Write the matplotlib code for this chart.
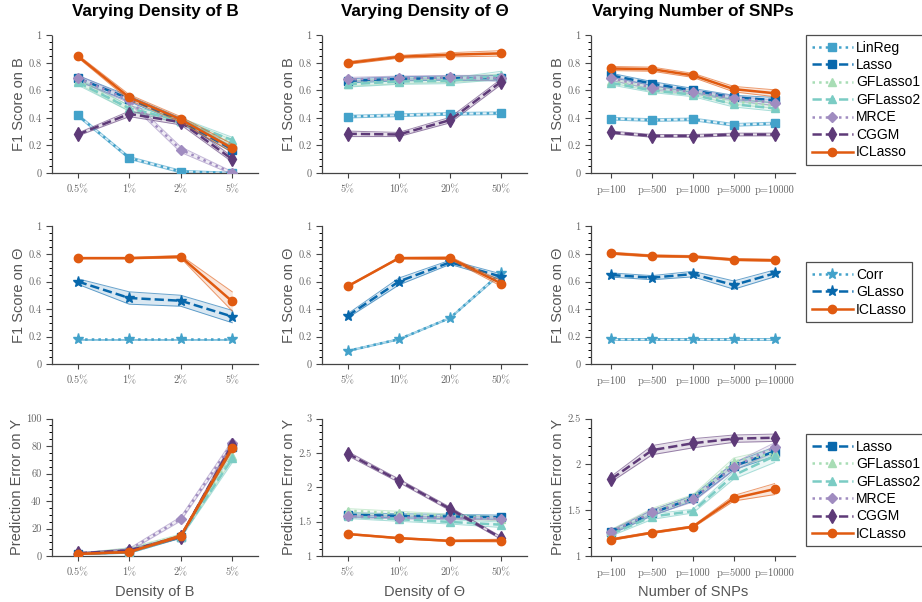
import matplotlib
matplotlib.use("Agg")
import matplotlib.pyplot as plt
from matplotlib.ticker import AutoMinorLocator, FuncFormatter, MultipleLocator
from matplotlib.colors import to_rgba

plt.rcParams["font.family"] = ["Liberation Sans", "DejaVu Sans"]

# x-axis categories
DENS_B = ["0.5%", "1%", "2%", "5%"]
DENS_TH = ["5%", "10%", "20%", "50%"]
SNPS = ["p=100", "p=500", "p=1000", "p=5000", "p=10000"]

# row 1: F1 score on B  (mean, band half-width)
f1b_densb = {
    "LinReg":   [0.42, 0.11, 0.01, 0.00],
    "Lasso":    [0.69, 0.54, 0.38, 0.17],
    "GFLasso1": [0.67, 0.47, 0.38, 0.22],
    "GFLasso2": [0.66, 0.47, 0.38, 0.24],
    "MRCE":     [0.69, 0.53, 0.17, 0.00],
    "CGGM":     [0.28, 0.43, 0.37, 0.10],
    "ICLasso":  [0.85, 0.55, 0.39, 0.18],
}
f1b_densb_err = {
    "LinReg":   [0.01, 0.01, 0.01, 0.005],
    "Lasso":    [0.02, 0.02, 0.02, 0.02],
    "GFLasso1": [0.02, 0.02, 0.02, 0.02],
    "GFLasso2": [0.02, 0.02, 0.02, 0.02],
    "MRCE":     [0.02, 0.02, 0.02, 0.01],
    "CGGM":     [0.01, 0.02, 0.02, 0.02],
    "ICLasso":  [0.01, 0.02, 0.02, 0.03],
}
f1b_densth = {
    "LinReg":   [0.41, 0.42, 0.43, 0.435],
    "Lasso":    [0.67, 0.685, 0.69, 0.69],
    "GFLasso1": [0.65, 0.67, 0.68, 0.70],
    "GFLasso2": [0.645, 0.665, 0.67, 0.71],
    "MRCE":     [0.68, 0.69, 0.695, 0.69],
    "CGGM":     [0.285, 0.28, 0.385, 0.665],
    "ICLasso":  [0.80, 0.845, 0.86, 0.87],
}
f1b_densth_err = {
    "LinReg":   [0.01, 0.01, 0.01, 0.01],
    "Lasso":    [0.015, 0.015, 0.015, 0.02],
    "GFLasso1": [0.02, 0.02, 0.02, 0.02],
    "GFLasso2": [0.02, 0.02, 0.02, 0.03],
    "MRCE":     [0.015, 0.015, 0.015, 0.02],
    "CGGM":     [0.02, 0.015, 0.02, 0.02],
    "ICLasso":  [0.01, 0.01, 0.015, 0.02],
}
f1b_snps = {
    "LinReg":   [0.395, 0.385, 0.39, 0.35, 0.36],
    "Lasso":    [0.71, 0.65, 0.60, 0.55, 0.53],
    "GFLasso1": [0.67, 0.61, 0.58, 0.52, 0.49],
    "GFLasso2": [0.655, 0.60, 0.57, 0.50, 0.47],
    "MRCE":     [0.69, 0.62, 0.59, 0.545, 0.51],
    "CGGM":     [0.295, 0.27, 0.27, 0.28, 0.28],
    "ICLasso":  [0.76, 0.755, 0.71, 0.61, 0.58],
}
f1b_snps_err = {
    "LinReg":   [0.01, 0.01, 0.01, 0.01, 0.01],
    "Lasso":    [0.015, 0.015, 0.015, 0.015, 0.02],
    "GFLasso1": [0.015, 0.015, 0.015, 0.02, 0.02],
    "GFLasso2": [0.015, 0.015, 0.015, 0.02, 0.02],
    "MRCE":     [0.015, 0.015, 0.015, 0.015, 0.02],
    "CGGM":     [0.01, 0.01, 0.01, 0.01, 0.01],
    "ICLasso":  [0.015, 0.015, 0.015, 0.02, 0.025],
}

# row 2: F1 score on Theta
f1t_densb = {
    "Corr":    [0.18, 0.18, 0.18, 0.18],
    "GLasso":  [0.60, 0.48, 0.46, 0.345],
    "ICLasso": [0.77, 0.77, 0.78, 0.455],
}
f1t_densb_err = {
    "Corr":    [0.005, 0.005, 0.005, 0.005],
    "GLasso":  [0.02, 0.045, 0.04, 0.045],
    "ICLasso": [0.005, 0.005, 0.01, 0.07],
}
f1t_densth = {
    "Corr":    [0.095, 0.18, 0.335, 0.665],
    "GLasso":  [0.35, 0.60, 0.74, 0.635],
    "ICLasso": [0.565, 0.77, 0.77, 0.585],
}
f1t_densth_err = {
    "Corr":    [0.005, 0.005, 0.005, 0.01],
    "GLasso":  [0.015, 0.025, 0.015, 0.02],
    "ICLasso": [0.005, 0.005, 0.01, 0.02],
}
f1t_snps = {
    "Corr":    [0.182, 0.182, 0.182, 0.182, 0.182],
    "GLasso":  [0.647, 0.628, 0.654, 0.574, 0.659],
    "ICLasso": [0.805, 0.786, 0.781, 0.759, 0.754],
}
f1t_snps_err = {
    "Corr":    [0.005, 0.005, 0.005, 0.005, 0.005],
    "GLasso":  [0.015, 0.015, 0.02, 0.03, 0.025],
    "ICLasso": [0.008, 0.008, 0.008, 0.008, 0.008],
}

# row 3: prediction error on Y
pe_densb = {
    "Lasso":    [1.5, 3.0, 14.0, 79.0],
    "GFLasso1": [1.5, 5.0, 15.0, 73.0],
    "GFLasso2": [1.5, 3.0, 14.0, 71.0],
    "MRCE":     [1.5, 4.5, 27.0, 82.0],
    "CGGM":     [2.0, 4.0, 14.0, 81.0],
    "ICLasso":  [1.5, 2.9, 14.6, 78.6],
}
pe_densb_err = {
    "Lasso":    [0.5, 1.0, 1.0, 2.0],
    "GFLasso1": [0.5, 1.0, 1.0, 3.0],
    "GFLasso2": [0.5, 1.0, 1.0, 3.0],
    "MRCE":     [0.5, 1.0, 1.5, 2.0],
    "CGGM":     [0.5, 1.0, 1.0, 2.0],
    "ICLasso":  [0.5, 0.5, 1.0, 2.0],
}
pe_densth = {
    "Lasso":    [1.60, 1.585, 1.575, 1.565],
    "GFLasso1": [1.66, 1.62, 1.58, 1.54],
    "GFLasso2": [1.575, 1.535, 1.495, 1.455],
    "MRCE":     [1.58, 1.56, 1.555, 1.545],
    "CGGM":     [2.49, 2.095, 1.685, 1.26],
    "ICLasso":  [1.32, 1.26, 1.22, 1.225],
}
pe_densth_err = {
    "Lasso":    [0.03, 0.03, 0.03, 0.03],
    "GFLasso1": [0.03, 0.03, 0.03, 0.03],
    "GFLasso2": [0.03, 0.03, 0.03, 0.04],
    "MRCE":     [0.02, 0.02, 0.02, 0.02],
    "CGGM":     [0.03, 0.025, 0.025, 0.02],
    "ICLasso":  [0.01, 0.01, 0.01, 0.02],
}
pe_snps = {
    "Lasso":    [1.26, 1.47, 1.63, 1.98, 2.14],
    "GFLasso1": [1.27, 1.49, 1.64, 2.03, 2.12],
    "GFLasso2": [1.24, 1.43, 1.49, 1.88, 2.09],
    "MRCE":     [1.265, 1.475, 1.62, 1.975, 2.185],
    "CGGM":     [1.84, 2.155, 2.23, 2.28, 2.29],
    "ICLasso":  [1.18, 1.255, 1.32, 1.63, 1.73],
}
pe_snps_err = {
    "Lasso":    [0.02, 0.03, 0.03, 0.04, 0.05],
    "GFLasso1": [0.02, 0.03, 0.03, 0.04, 0.05],
    "GFLasso2": [0.02, 0.03, 0.02, 0.04, 0.07],
    "MRCE":     [0.02, 0.03, 0.03, 0.04, 0.05],
    "CGGM":     [0.03, 0.05, 0.05, 0.04, 0.04],
    "ICLasso":  [0.01, 0.01, 0.01, 0.03, 0.06],
}

# color, linestyle, marker, markersize
STYLE = {
    "LinReg":   ("#43a2ca", ":",  "s", 5.5),
    "Corr":     ("#43a2ca", ":",  "*", 8),
    "Lasso":    ("#0868ac", "--", "s", 5.5),
    "GLasso":   ("#0868ac", "--", "*", 8),
    "GFLasso1": ("#a8ddb5", ":",  "^", 6),
    "GFLasso2": ("#7bccc4", "--", "^", 6),
    "MRCE":     ("#a08cc0", ":",  "D", 5),
    "CGGM":     ("#5e3a78", "--", "d", 7),
    "ICLasso":  ("#e05a10", "-",  "o", 6),
}

GRAY = "#555555"
TICKFONT = "cmr10"


def draw_panel(ax, cats, means, errs):
    x = list(range(1, len(cats) + 1))
    handles = []
    for name, m in means.items():
        col, ls, mk, ms = STYLE[name]
        lo = [a - e for a, e in zip(m, errs[name])]
        hi = [a + e for a, e in zip(m, errs[name])]
        z = 5 if name == "ICLasso" else 3
        ax.fill_between(x, lo, hi, color=to_rgba(col, 0.15), lw=0, zorder=z - 1)
        ax.plot(x, lo, color=col, lw=0.7, alpha=0.6, zorder=z - 1)
        ax.plot(x, hi, color=col, lw=0.7, alpha=0.6, zorder=z - 1)
        h, = ax.plot(x, m, color=col, ls=ls, marker=mk, ms=ms, lw=1.8,
                     label=name, zorder=z)
        handles.append(h)
    ax.set_xlim(0.5, len(cats) + 0.5)
    ax.set_xticks(x)
    ax.set_xticklabels(cats)
    for s in ("top", "right"):
        ax.spines[s].set_visible(False)
    for s in ("left", "bottom"):
        ax.spines[s].set_color("#444444")
        ax.spines[s].set_linewidth(0.9)
    ax.yaxis.set_major_formatter(FuncFormatter(lambda v, p: "%g" % round(v, 3)))
    ax.tick_params(axis="both", colors="#444444", labelcolor="#666666", labelsize=7.5)
    ax.tick_params(axis="y", which="major", length=4.5, width=0.8, pad=3)
    ax.tick_params(axis="y", which="minor", length=2.2, width=0.7)
    ax.tick_params(axis="x", which="major", length=3.5, width=0.8, pad=5)
    return handles


fig = plt.figure(figsize=(9.22, 6.02), dpi=100)

lefts = [52 / 922, 322 / 922, 591 / 922]
widths = [206 / 922, 205 / 922, 204 / 922]
bottoms = [1 - 173 / 602, 1 - 364 / 602, 1 - 556 / 602]
height = 137.5 / 602

panels = [
    [(DENS_B, f1b_densb, f1b_densb_err), (DENS_TH, f1b_densth, f1b_densth_err),
     (SNPS, f1b_snps, f1b_snps_err)],
    [(DENS_B, f1t_densb, f1t_densb_err), (DENS_TH, f1t_densth, f1t_densth_err),
     (SNPS, f1t_snps, f1t_snps_err)],
    [(DENS_B, pe_densb, pe_densb_err), (DENS_TH, pe_densth, pe_densth_err),
     (SNPS, pe_snps, pe_snps_err)],
]
ylabels = ["F1 Score on B", "F1 Score on \u0398", "Prediction Error on Y"]
titles = ["Varying Density of B", "Varying Density of \u0398", "Varying Number of SNPs"]
xlabels = ["Density of B", "Density of \u0398", "Number of SNPs"]
ylims = [[(0, 1)] * 3, [(0, 1)] * 3, [(0, 100), (1, 3), (1, 2.5)]]
ysteps = [[0.2] * 3, [0.2] * 3, [20, 0.5, 0.5]]
yminor = [[4] * 3, [4] * 3, [4, 5, 5]]

row_handles = []
for r in range(3):
    for c in range(3):
        ax = fig.add_axes([lefts[c], bottoms[r], widths[c], height])
        cats, means, errs = panels[r][c]
        hs = draw_panel(ax, cats, means, errs)
        ax.set_ylim(*ylims[r][c])
        ax.yaxis.set_major_locator(MultipleLocator(ysteps[r][c]))
        ax.yaxis.set_minor_locator(AutoMinorLocator(yminor[r][c]))
        plt.setp(ax.get_xticklabels() + ax.get_yticklabels(), family=TICKFONT)
        ax.set_ylabel(ylabels[r], fontsize=10.5, color=GRAY, labelpad=1.5)
        if r == 0:
            ax.set_title(titles[c], fontsize=12.3, fontweight="bold", pad=14)
        if r == 2:
            ax.set_xlabel(xlabels[c], fontsize=10.5, color=GRAY, labelpad=5.5)
        if c == 2:
            row_handles.append(hs)

legend_tops = [35, 262, 434]
for r in range(3):
    leg = fig.legend(handles=row_handles[r], loc="upper left",
                     bbox_to_anchor=(806 / 922, 1 - legend_tops[r] / 602),
                     fontsize=10, frameon=True, fancybox=False, edgecolor="#222222",
                     handlelength=3.0, handletextpad=0.2, labelspacing=0.25,
                     borderpad=0.4, borderaxespad=0, numpoints=1)
    leg.get_frame().set_linewidth(0.9)

fig.savefig("out.png", dpi=100)
